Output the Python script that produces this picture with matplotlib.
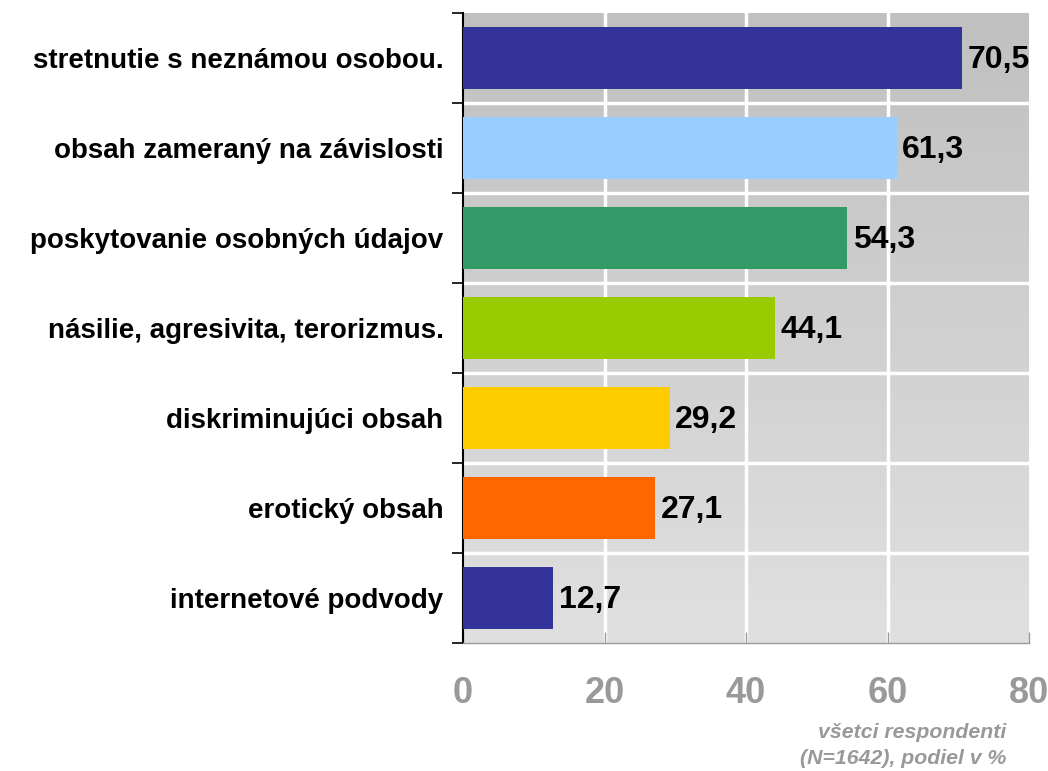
import matplotlib.pyplot as plt
import numpy as np

# chart data
categories = ['stretnutie s neznámou osobou.', 'obsah zameraný na závislosti',
              'poskytovanie osobných údajov', 'násilie, agresivita, terorizmus.',
              'diskriminujúci obsah', 'erotický obsah', 'internetové podvody']
values = [70.5, 61.3, 54.3, 44.1, 29.2, 27.1, 12.7]
colors = ['#333399', '#99CCFF', '#339966', '#99CC00', '#FFCC00', '#FF6600', '#333399']
xticks = [0, 20, 40, 60, 80]

plt.rcParams['font.family'] = ['Liberation Sans', 'DejaVu Sans']

fig = plt.figure(figsize=(10.48, 7.71), dpi=100)
ax = fig.add_axes([463 / 1048, 1 - 643 / 771, 566 / 1048, 630 / 771])

n = len(categories)
ypos = np.arange(n)

# gradient background
grad = np.linspace(0, 1, 256).reshape(-1, 1)
ax.imshow(grad, cmap=plt.matplotlib.colors.LinearSegmentedColormap.from_list(
    'bg', ['#C0C0C0', '#E0E0E0']), aspect='auto',
    extent=[0, 80, n - 0.5, -0.5], zorder=0)

ax.barh(ypos, values, height=0.68, color=colors, zorder=3)
for y, v in zip(ypos, values):
    ax.text(v + 0.8, y + 0.02, f'{v:.1f}'.replace('.', ','), va='center', ha='left',
            fontsize=23, fontweight='bold', color='black', zorder=4)

ax.set_xlim(0, 80)
ax.set_ylim(n - 0.5, -0.5)

# grid
for x in xticks[1:-1]:
    ax.axvline(x, color='white', lw=2.5, zorder=1)
for b in np.arange(0.5, n - 0.5, 1):
    ax.axhline(b, color='white', lw=2.5, zorder=1)

ax.set_yticks(ypos)
ax.set_yticklabels(categories, fontsize=20, fontweight='bold')
ax.tick_params(axis='y', length=0, pad=14)
ax.set_yticks(np.arange(-0.5, n, 1), minor=True)
ax.tick_params(axis='y', which='minor', length=8, width=1.2, direction='out', color='black')

ax.set_xticks(xticks)
ax.set_xticklabels([str(t) for t in xticks], fontsize=26, fontweight='bold', color='#999999')
ax.tick_params(axis='x', length=8, width=1, direction='in', color='#999999', pad=24)

for s in ['top', 'right']:
    ax.spines[s].set_visible(False)
ax.spines['left'].set_color('black')
ax.spines['left'].set_linewidth(1.5)
ax.spines['bottom'].set_color('#999999')
ax.spines['bottom'].set_linewidth(1)

fig.text(1006 / 1048, 1 - 732 / 771, 'všetci respondenti', ha='right', va='center',
         fontsize=15.3, fontweight='bold', fontstyle='italic', color='#999999')
fig.text(1006 / 1048, 1 - 758 / 771, '(N=1642), podiel v %', ha='right', va='center',
         fontsize=15.3, fontweight='bold', fontstyle='italic', color='#999999')

fig.savefig('out.png', dpi=100)
